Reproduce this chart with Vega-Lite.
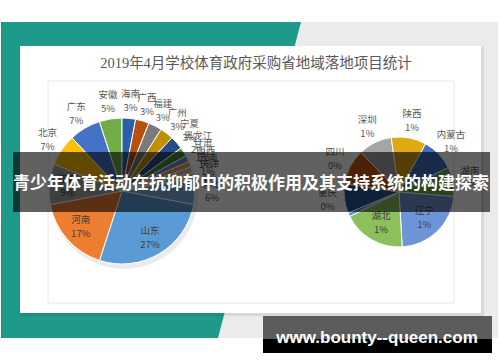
{
  "$schema": "https://vega.github.io/schema/vega-lite/v6.json",
  "width": 500,
  "height": 362,
  "autosize": {"type": "fit", "contains": "padding"},
  "padding": 0,
  "background": "white",
  "config": {"view": {"stroke": null}, "text": {"font": "Noto Sans CJK SC"}},
  "datasets": {
    "main": [
      {"i": 0, "name": "其他", "value": 6, "pct": "6%"},
      {"i": 1, "name": "山东", "value": 27, "pct": "27%"},
      {"i": 2, "name": "河南", "value": 17, "pct": "17%"},
      {"i": 3, "name": "江苏", "value": 9, "pct": "9%"},
      {"i": 4, "name": "北京", "value": 7, "pct": "7%"},
      {"i": 5, "name": "广东", "value": 7, "pct": "7%"},
      {"i": 6, "name": "安徽", "value": 5, "pct": "5%"},
      {"i": 7, "name": "海南", "value": 3, "pct": "3%"},
      {"i": 8, "name": "广西", "value": 3, "pct": "3%"},
      {"i": 9, "name": "福建", "value": 3, "pct": "3%"},
      {"i": 10, "name": "广州", "value": 3, "pct": "3%"},
      {"i": 11, "name": "宁夏", "value": 3, "pct": "3%"},
      {"i": 12, "name": "黑龙江", "value": 2, "pct": "2%"},
      {"i": 13, "name": "甘肃", "value": 1.4, "pct": "1%"},
      {"i": 14, "name": "山西", "value": 1.3, "pct": "1%"},
      {"i": 15, "name": "云南", "value": 1.2, "pct": "1%"},
      {"i": 16, "name": "天津", "value": 1.1, "pct": "1%"}
    ],
    "sub": [
      {"i": 0, "name": "深圳", "value": 0.60, "pct": "1%"},
      {"i": 1, "name": "陕西", "value": 0.62, "pct": "1%"},
      {"i": 2, "name": "内蒙古", "value": 0.58, "pct": "1%"},
      {"i": 3, "name": "湖南", "value": 0.52, "pct": "1%"},
      {"i": 4, "name": "辽宁", "value": 1.37, "pct": "1%"},
      {"i": 5, "name": "湖北", "value": 1.12, "pct": "1%"},
      {"i": 6, "name": "贵州", "value": 0.07, "pct": "0%"},
      {"i": 7, "name": "重庆", "value": 0.52, "pct": "0%"},
      {"i": 8, "name": "四川", "value": 0.62, "pct": "0%"}
    ]
  },
  "layer": [
    {"data": {"values": [{}]}, "mark": {"type": "rect", "x": 0, "x2": 497, "y": 21, "y2": 337, "fill": "#EBEBEB"}},
    {"data": {"values": [{}]}, "mark": {"type": "point", "shape": "M0,21L300,21L217,337L0,337Z", "size": 4, "x": 0, "y": 0, "filled": true, "fill": "#1F9A8A", "opacity": 1, "strokeWidth": 0}},
    {"data": {"values": [{}]}, "mark": {"type": "rect", "x": 20, "x2": 483, "y": 46, "y2": 315, "fill": "#000000", "opacity": 0.08}},
    {"data": {"values": [{}]}, "mark": {"type": "rect", "x": 19, "x2": 480, "y": 45, "y2": 312, "fill": "#FFFFFF"}},
    {"data": {"values": [{}]}, "mark": {"type": "rect", "x": 47, "x2": 453, "y": 80, "y2": 302, "fill": null, "stroke": "#E6E6E6", "strokeWidth": 1}},
    {"data": {"values": [{}]}, "mark": {"type": "text", "x": 255, "y": 63, "text": "2019年4月学校体育政府采购省地域落地项目统计", "font": "Liberation Serif, Noto Sans CJK SC", "fontSize": 14.5, "fill": "#595959", "align": "center", "baseline": "middle"}},
    {"data": {"values": [{}]}, "mark": {"type": "rule", "x": 193, "y": 176, "x2": 396, "y2": 136, "stroke": "#A6A6A6", "strokeWidth": 0.8}, "encoding": {}},
    {"data": {"values": [{}]}, "mark": {"type": "rule", "x": 193, "y": 204, "x2": 396, "y2": 246, "stroke": "#A6A6A6", "strokeWidth": 0.8}, "encoding": {}},
    {"data": {"values": [{}]}, "mark": {"type": "arc", "x": 123, "y": 194, "outerRadius": 74, "theta": 0, "theta2": 6.2832, "fill": "#000000", "opacity": 0.08}},
    {
      "data": {"name": "main"},
      "encoding": {
        "theta": {"field": "value", "type": "quantitative", "stack": true, "scale": {"range": [1.3823, 7.6655]}},
        "order": {"field": "i", "type": "quantitative"},
        "detail": {"field": "name", "type": "nominal"}
      },
      "layer": [
        {
          "mark": {"type": "arc", "x": 121, "y": 190, "outerRadius": 73, "stroke": "#FFFFFF", "strokeWidth": 1},
          "encoding": {
            "color": {"field": "name", "type": "nominal", "legend": null,
              "scale": {
                "domain": ["其他", "山东", "河南", "江苏", "北京", "广东", "安徽", "海南", "广西", "福建", "广州", "宁夏", "黑龙江", "甘肃", "山西", "云南", "天津"],
                "range": ["#7CAFDD", "#5B9BD5", "#ED7D31", "#A5A5A5", "#FFC000", "#4472C4", "#70AD47", "#2960A8", "#B7500F", "#7A7A7A", "#BF9000", "#2A4C8A", "#4E8A35", "#698ED0", "#F1975A", "#B7B7B7", "#FFCD33"]
              }}
          }
        },
        {"mark": {"type": "text", "x": 121, "y": 190, "radius": 55, "dy": -7, "fontSize": 9.5, "fill": "#404040", "align": "center", "baseline": "middle"},
         "encoding": {"text": {"condition": {"test": "datum.value >= 9", "field": "name", "type": "nominal"}, "value": ""}}},
        {"mark": {"type": "text", "x": 121, "y": 190, "radius": 55, "dy": 7, "fontSize": 9.5, "fill": "#404040", "align": "center", "baseline": "middle"},
         "encoding": {"text": {"condition": {"test": "datum.value >= 9", "field": "pct", "type": "nominal"}, "value": ""}}},
        {"mark": {"type": "text", "x": 121, "y": 190, "radius": 90, "dy": -7, "fontSize": 9.5, "fill": "#595959", "align": "center", "baseline": "middle"},
         "encoding": {"text": {"condition": {"test": "datum.value < 9", "field": "name", "type": "nominal"}, "value": ""}}},
        {"mark": {"type": "text", "x": 121, "y": 190, "radius": 90, "dy": 7, "fontSize": 9.5, "fill": "#595959", "align": "center", "baseline": "middle"},
         "encoding": {"text": {"condition": {"test": "datum.value < 9", "field": "pct", "type": "nominal"}, "value": ""}}}
      ]
    },
    {
      "data": {"name": "sub"},
      "encoding": {
        "theta": {"field": "value", "type": "quantitative", "stack": true, "scale": {"range": [-0.7679, 5.5153]}},
        "order": {"field": "i", "type": "quantitative"},
        "detail": {"field": "name", "type": "nominal"}
      },
      "layer": [
        {
          "mark": {"type": "arc", "x": 398, "y": 191, "outerRadius": 55, "stroke": "#FFFFFF", "strokeWidth": 1},
          "encoding": {
            "color": {"field": "name", "type": "nominal", "legend": null,
              "scale": {
                "domain": ["深圳", "陕西", "内蒙古", "湖南", "辽宁", "湖北", "贵州", "重庆", "四川"],
                "range": ["#A5A5A5", "#DEA912", "#4170C0", "#70AD47", "#6E94D8", "#8DC05C", "#5B9BD5", "#2F5597", "#C55A11"]
              }}
          }
        },
        {"mark": {"type": "text", "x": 398, "y": 191, "radius": 36, "dy": -7, "fontSize": 9.5, "fill": "#404040", "align": "center", "baseline": "middle"},
         "encoding": {"text": {"condition": {"test": "datum.value >= 1", "field": "name", "type": "nominal"}, "value": ""}}},
        {"mark": {"type": "text", "x": 398, "y": 191, "radius": 36, "dy": 7, "fontSize": 9.5, "fill": "#404040", "align": "center", "baseline": "middle"},
         "encoding": {"text": {"condition": {"test": "datum.value >= 1", "field": "pct", "type": "nominal"}, "value": ""}}},
        {"mark": {"type": "text", "x": 398, "y": 191, "radius": 72, "dy": -7, "fontSize": 9.5, "fill": "#595959", "align": "center", "baseline": "middle"},
         "encoding": {"text": {"condition": {"test": "datum.value < 1 && datum.value > 0.1", "field": "name", "type": "nominal"}, "value": ""}}},
        {"mark": {"type": "text", "x": 398, "y": 191, "radius": 72, "dy": 7, "fontSize": 9.5, "fill": "#595959", "align": "center", "baseline": "middle"},
         "encoding": {"text": {"condition": {"test": "datum.value < 1 && datum.value > 0.1", "field": "pct", "type": "nominal"}, "value": ""}}}
      ]
    },
    {"data": {"values": [{}]}, "mark": {"type": "rect", "x": 12, "x2": 489, "y": 151, "y2": 211, "fill": "#000000", "opacity": 0.62}},
    {"data": {"values": [{}]}, "mark": {"type": "text", "x": 250, "y": 183, "text": "青少年体育活动在抗抑郁中的积极作用及其支持系统的构建探索", "fontSize": 17, "fontWeight": "bold", "fill": "#FFFFFF", "align": "center", "baseline": "middle"}},
    {"data": {"values": [{}]}, "mark": {"type": "rect", "x": 262, "x2": 491, "y": 315, "y2": 338, "fill": "#5C5C5C"}},
    {"data": {"values": [{}]}, "mark": {"type": "rect", "x": 262, "x2": 491, "y": 338, "y2": 352, "fill": "#000000"}},
    {"data": {"values": [{}]}, "mark": {"type": "text", "x": 376, "y": 342, "text": "www.bounty--queen.com", "font": "Liberation Sans", "fontSize": 17, "fontWeight": "bold", "fill": "#FFFFFF", "align": "center", "baseline": "alphabetic"}}
  ],
  "resolve": {"scale": {"theta": "independent", "color": "independent"}}
}
